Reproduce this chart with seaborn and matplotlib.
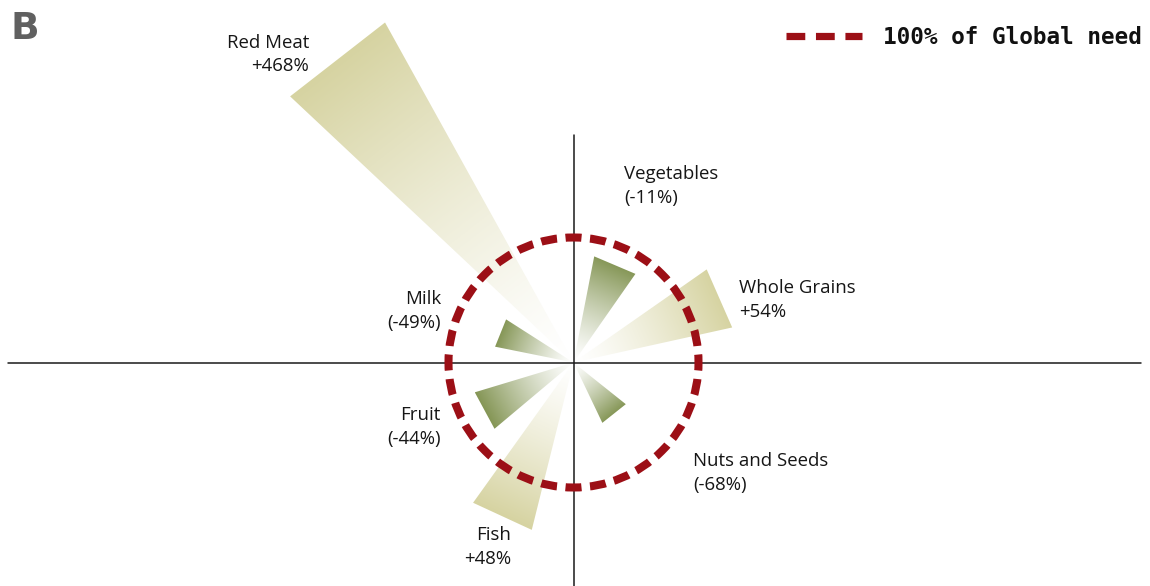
import numpy as np
import matplotlib
matplotlib.use("Agg")
import matplotlib.pyplot as plt
import matplotlib.patches as mpatches
from matplotlib.lines import Line2D
from matplotlib.font_manager import FontProperties
import seaborn as sns

# data
foods = ["Red Meat", "Vegetables", "Whole Grains", "Milk", "Fruit", "Nuts and Seeds", "Fish"]
change_pct = [468, -11, 54, -49, -44, -68, 48]
direction_deg = [127.9, 67.0, 23.7, 158.0, 208.4, 308.5, 245.2]
spread_deg = [17.8, 23.9, 22.5, 21.2, 23.2, 25.9, 21.6]
reach = [3.11, 0.865, 1.30, 0.64, 0.825, 0.535, 1.38]  # in units of the 100% circle

# label anchors (figure pixels): x, y-centre, alignment
label_x = [309, 624, 739, 441, 441, 693, 511]
label_y = [54.5, 186, 300, 311, 427, 473, 547]
label_ha = ["right", "left", "left", "right", "right", "left", "right"]

sns.set_theme(style="white")
plt.rcParams["font.family"] = ["Open Sans", "DejaVu Sans"]

W, H = 1150, 586
cx, cy, unit = 573.5, 362.5, 125.0

fig = plt.figure(figsize=(W / 100, H / 100), dpi=100)
ax = fig.add_axes([0, 0, 1, 1])

green = "#859656"
tan = "#d6d3a1"
red = "#9c0f16"

for d, s, r, p in zip(direction_deg, spread_deg, reach, change_pct):
    col = tan if p > 0 else green
    c = np.deg2rad(d)
    hw = np.deg2rad(s / 2)
    pts = np.array([[0, 0],
                    [r * np.cos(c - hw), r * np.sin(c - hw)],
                    [r * np.cos(c + hw), r * np.sin(c + hw)]])
    poly = mpatches.Polygon(pts, closed=True, facecolor="none", edgecolor="none")
    ax.add_patch(poly)
    x0, x1 = pts[:, 0].min(), pts[:, 0].max()
    y0, y1 = pts[:, 1].min(), pts[:, 1].max()
    gx, gy = np.meshgrid(np.linspace(x0, x1, 300), np.linspace(y0, y1, 300))
    t = (gx * np.cos(c) + gy * np.sin(c)) / (r * np.cos(hw))
    t = np.clip(t, 0, 1) ** 1.3
    cmap = sns.blend_palette(["white", col], as_cmap=True)
    im = ax.imshow(t, extent=(x0, x1, y0, y1), origin="lower", cmap=cmap,
                   vmin=0, vmax=1, interpolation="bilinear", zorder=1)
    im.set_clip_path(poly)

ax.axhline(0, xmin=8 / W, xmax=1141 / W, color="#1a1a1a", lw=1.1, zorder=2)
ax.axvline(0, ymin=0, ymax=1 - 135 / H, color="#1a1a1a", lw=1.1, zorder=2)

# 100% circle
lw = 5.8
period = 2 * np.pi * unit * 0.72 / 32 / lw
dash = 11.5 / lw
circle = mpatches.Circle((0, 0), 1.0, fill=False, edgecolor=red, lw=lw,
                         linestyle=(dash / 2, (dash, period - dash)), zorder=3)
ax.add_patch(circle)

ax.set_xlim(-cx / unit, (W - cx) / unit)
ax.set_ylim(-(H - cy) / unit, cy / unit)
ax.set_aspect("equal")
ax.axis("off")

for name, p, x, y, ha in zip(foods, change_pct, label_x, label_y, label_ha):
    val = f"+{p}%" if p > 0 else f"({p}%)"
    fig.text(x / W, 1 - y / H, f"{name}\n{val}", ha=ha, va="center",
             multialignment=ha, fontsize=13.4, color="#161616", linespacing=1.4)

proxy = Line2D([], [], color=red, lw=5.2, linestyle=(0, (2.6, 1.48)))
ax.legend([proxy], ["100% of Global need"], loc="upper right",
          bbox_to_anchor=(1142 / W, 1 - 26 / H), bbox_transform=fig.transFigure,
          frameon=False, handlelength=3.35, handletextpad=0.95,
          borderpad=0, borderaxespad=0, labelcolor="#111111",
          prop=FontProperties(family="DejaVu Sans Mono", weight="bold", size=16.3))

fig.text(10 / W, 1 - 39 / H, "B", ha="left", va="baseline", fontsize=27,
         fontweight="bold", color="#606060",
         family=["Liberation Sans Narrow", "DejaVu Sans"])

plt.savefig("out.png", dpi=100)
